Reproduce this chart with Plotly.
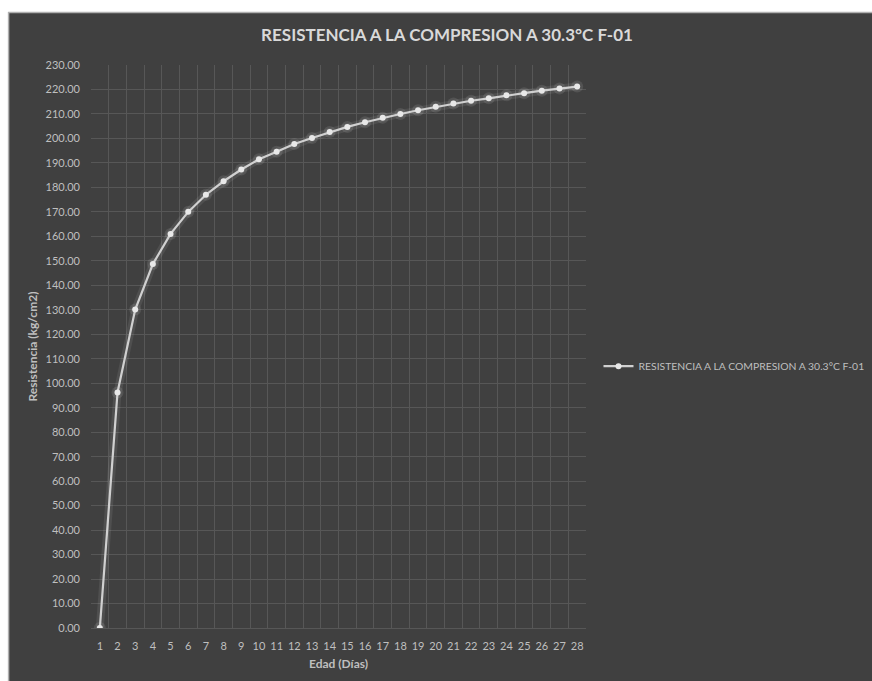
import plotly.graph_objects as go

edad = [str(d) for d in range(1, 29)]
resistencia = [0.0, 96.2, 130.1, 148.7, 161.0, 170.0, 177.0, 182.5, 187.3, 191.5,
               194.6, 197.7, 200.2, 202.6, 204.7, 206.6, 208.4, 210.0, 211.5, 212.9,
               214.3, 215.4, 216.4, 217.6, 218.5, 219.5, 220.4, 221.2]
serie = "RESISTENCIA A LA COMPRESION A 30.3°C F-01"
titulo = "RESISTENCIA A LA COMPRESION A 30.3°C F-01"
y_ticks = list(range(0, 231, 10))

BG = "#404040"
GRID = "#575757"
TXT = "#bfbfbf"
FONT = "Lato, 'Open Sans', sans-serif"

W, H = 872, 681
# plot area in page pixel coords
PL, PR, PT, PB = 91, 586.5, 65, 627.7


def px_x(x):
    return (x - PL) / (PR - PL)


def px_y(y):
    return (PB - y) / (PB - PT)


fig = go.Figure()
# soft glow underlay
fig.add_trace(go.Scatter(x=edad, y=resistencia, mode="lines+markers",
                         line=dict(color="rgba(255,255,255,0.08)", width=8),
                         marker=dict(size=12, color="rgba(255,255,255,0.10)"),
                         hoverinfo="skip", showlegend=False))
fig.add_trace(go.Scatter(x=edad, y=resistencia, mode="lines+markers", name=serie,
                         line=dict(color="#d0d0d0", width=2.2),
                         marker=dict(size=6, color="#e8e8e8")))

fig.update_layout(
    width=W, height=H,
    margin=dict(l=PL, r=W - PR, t=PT, b=H - PB, autoexpand=False),
    paper_bgcolor=BG, plot_bgcolor=BG,
    font=dict(family=FONT, color=TXT, size=11),
    title=dict(text="<b>" + titulo + "</b>", x=447 / W, xanchor="center",
               y=1 - 35 / H, yanchor="middle",
               font=dict(family=FONT, size=17, color="#d9d9d9")),
    showlegend=True,
    legend=dict(x=px_x(599), y=px_y(366), xanchor="left", yanchor="middle",
                bgcolor="rgba(0,0,0,0)",
                font=dict(family=FONT, size=10.4, color=TXT), itemwidth=30),
    xaxis=dict(type="category", tickson="boundaries", showgrid=True, gridcolor=GRID,
               gridwidth=1, ticks="", showline=False, zeroline=False, tickangle=0,
               tickfont=dict(size=11, color=TXT), ticklabelstandoff=10,
               title=dict(text="<b>Edad (Días)</b>", font=dict(size=12, color=TXT), standoff=8),
               range=[-0.5, 27.5]),
    yaxis=dict(range=[0, 230], tickvals=y_ticks, tickformat=".2f", showgrid=True,
               gridcolor=GRID, gridwidth=1, zeroline=True, zerolinecolor=GRID,
               zerolinewidth=1, showline=False, ticks="",
               tickfont=dict(size=11, color=TXT), ticklabelstandoff=10,
               title=dict(text="<b>Resistencia (kg/cm2)</b>", font=dict(size=12, color=TXT),
                          standoff=5)),
    shapes=[
        dict(type="rect", xref="paper", yref="paper", layer="above",
             x0=px_x(-5), x1=px_x(W + 5), y0=px_y(12), y1=px_y(-5),
             fillcolor="white", line=dict(width=0)),
        dict(type="rect", xref="paper", yref="paper", layer="above",
             x0=px_x(-5), x1=px_x(8), y0=px_y(H + 5), y1=px_y(-5),
             fillcolor="white", line=dict(width=0)),
        dict(type="line", xref="paper", yref="paper", layer="above",
             x0=px_x(8), x1=px_x(W + 5), y0=px_y(12.5), y1=px_y(12.5),
             line=dict(color="#b0b0b0", width=1.5)),
        dict(type="line", xref="paper", yref="paper", layer="above",
             x0=px_x(8.5), x1=px_x(8.5), y0=px_y(H + 5), y1=px_y(12),
             line=dict(color="#b0b0b0", width=1.5)),
    ],
)

fig.write_html(
    "out.html",
    config={"displayModeBar": False},
    post_script="document.body.style.margin='0';document.body.style.overflow='hidden';",
)
